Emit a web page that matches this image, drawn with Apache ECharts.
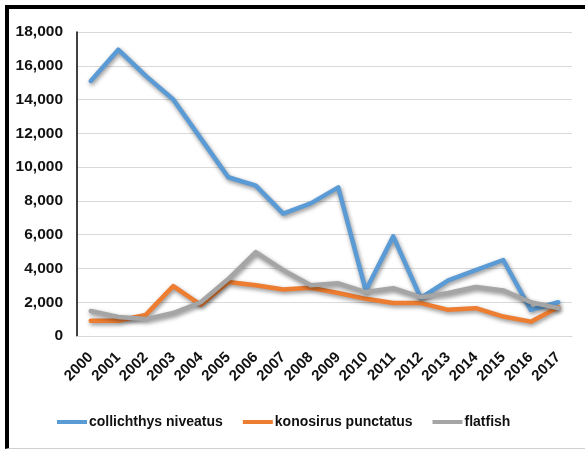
<!DOCTYPE html>
<html>
<head>
<meta charset="utf-8">
<script src="https://cdn.jsdelivr.net/npm/echarts@6/dist/echarts.min.js"></script>
<style>
  html, body { margin: 0; padding: 0; background: #fff; }
  #frame {
    position: absolute; left: 0; top: 0;
    box-sizing: border-box;
    border-left: 4px solid #000; border-top: 4px solid #000;
    border-bottom: 1px solid #d0d0d0;
    margin-left: 5px; margin-top: 5px; width: 580px; height: 444px;
  }
  #chart { position: absolute; left: 0; top: 0; width: 585px; height: 449px; }
</style>
</head>
<body>
<div id="frame"></div>
<div id="chart"></div>
<script>
// Annual catch by species, 2000-2017
const years = ['2000','2001','2002','2003','2004','2005','2006','2007','2008',
               '2009','2010','2011','2012','2013','2014','2015','2016','2017'];
const collichthys = [15100, 16950, 15400, 14000, 11700, 9400, 8900, 7250, 7850,
                     8800, 2700, 5900, 2250, 3300, 3900, 4500, 1550, 2000];
const konosirus = [900, 900, 1250, 2950, 1850, 3200, 3000, 2750, 2850,
                   2550, 2200, 1950, 1950, 1550, 1650, 1150, 850, 1700];
const flatfish = [1480, 1130, 1000, 1360, 2000, 3370, 4970, 3900, 3000,
                  3120, 2600, 2830, 2300, 2550, 2900, 2700, 2000, 1650];
const seriesNames = ['collichthys niveatus', 'konosirus punctatus', 'flatfish'];
const colors = ['#5B9BD5', '#ED7D31', '#A5A5A5'];

const font = "'Liberation Sans Narrow', 'Arial Narrow', 'Liberation Sans', Arial, sans-serif";

const chart = echarts.init(document.getElementById('chart'));

function lineSeries(name, data, color) {
  return {
    name: name, type: 'line', data: data, symbol: 'none',
    lineStyle: {
      width: 4.5, color: color, cap: 'round', join: 'round',
      shadowColor: 'rgba(0,0,0,0.45)', shadowBlur: 4, shadowOffsetY: 2, shadowOffsetX: 1
    },
    itemStyle: { color: color }
  };
}

chart.setOption({
  animation: false,
  color: colors,
  grid: { left: 77, right: 13, top: 32, bottom: 113, containLabel: false },
  legend: {
    left: 52, top: 410, itemWidth: 30, itemHeight: 4, itemGap: 20,
    icon: 'rect',
    textStyle: { fontFamily: font, fontWeight: 'bold', fontSize: 14, color: '#111', padding: [0, 0, 0, -3] },
    data: seriesNames
  },
  xAxis: {
    type: 'category', data: years, boundaryGap: true,
    axisLine: { show: true, lineStyle: { color: '#d9d9d9', width: 1 } },
    axisTick: { show: false },
    axisLabel: {
      interval: 0, rotate: 45, margin: 19,
      fontFamily: font, fontWeight: 'bold', fontSize: 15, color: '#111'
    }
  },
  yAxis: {
    type: 'value', min: 0, max: 18000, interval: 2000,
    axisLine: { show: true, lineStyle: { color: '#000', width: 1.5 } },
    axisTick: { show: false },
    splitLine: { lineStyle: { color: '#d9d9d9', width: 1 } },
    axisLabel: {
      margin: 14, fontFamily: font, fontWeight: 'bold', fontSize: 15.5, color: '#111',
      formatter: v => v.toLocaleString('en-US')
    }
  },
  series: [
    lineSeries(seriesNames[0], collichthys, colors[0]),
    lineSeries(seriesNames[1], konosirus, colors[1]),
    lineSeries(seriesNames[2], flatfish, colors[2])
  ]
});
</script>
</body>
</html>
